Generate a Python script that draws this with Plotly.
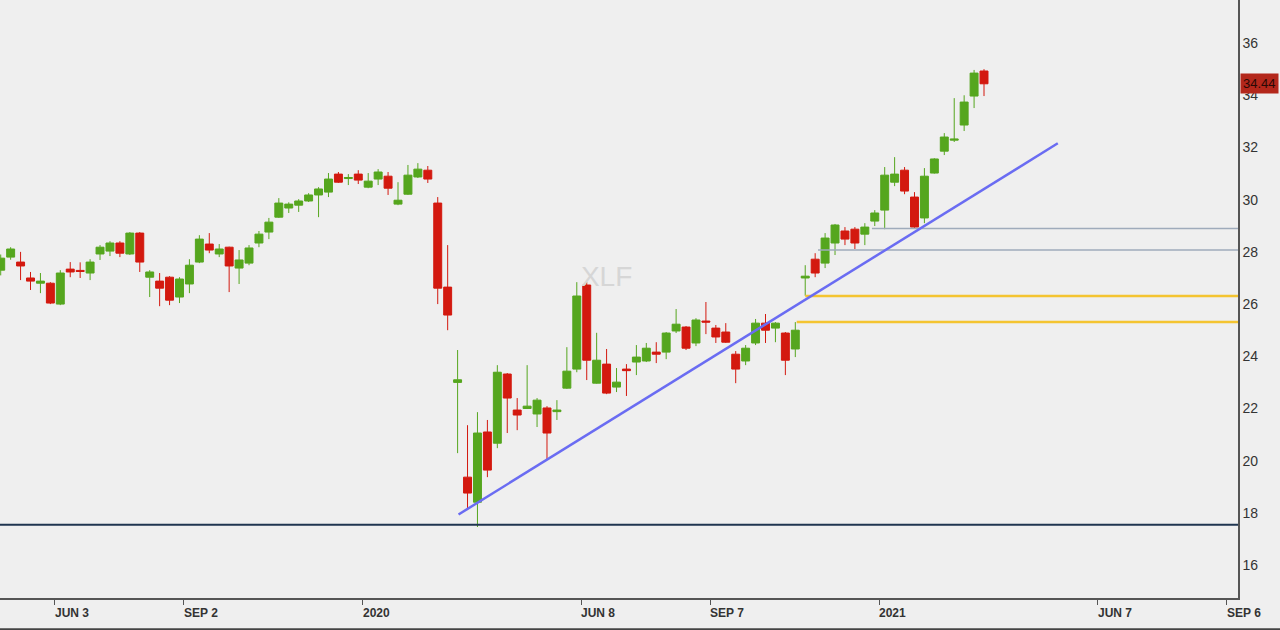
import pandas as pd
import plotly.graph_objects as go

# Weekly candles (week ending Friday), first week ending 2019-04-26
dates = pd.date_range("2019-04-26", periods=100, freq="W-FRI")

open_ = [27.30, 27.80, 27.61, 27.00, 26.80, 26.80, 26.00, 27.34, 27.29, 27.19,
         27.92, 28.03, 28.34, 27.92, 28.72, 27.03, 26.88, 27.03, 26.27, 26.77,
         27.61, 28.30, 27.92, 28.18, 27.38, 27.57, 28.34, 28.76, 29.33, 29.68,
         29.79, 29.95, 30.18, 30.29, 30.98, 30.81, 30.98, 30.48, 30.79, 30.90,
         29.83, 30.21, 30.87, 31.13, 29.87, 26.65, 23.00, 19.37, 18.41, 21.10,
         20.67, 23.32, 21.94, 22.00, 21.79, 22.02, 21.88, 22.78, 23.51, 26.73,
         22.97, 23.70, 22.82, 23.51, 23.78, 23.82, 24.16, 24.16, 24.97, 25.12,
         24.51, 25.35, 25.08, 24.93, 24.08, 23.82, 24.51, 25.27, 25.08, 24.89,
         24.28, 27.00, 27.72, 27.57, 28.34, 28.80, 28.87, 28.68, 29.18, 29.60,
         30.67, 31.13, 30.10, 29.30, 31.02, 31.86, 32.28, 32.86, 33.97, 34.93]
high = [27.90, 28.18, 28.00, 27.23, 27.19, 26.84, 27.30, 27.61, 27.60, 27.72,
        28.26, 28.41, 28.41, 28.76, 28.76, 27.30, 27.19, 27.07, 27.03, 27.72,
        28.64, 28.72, 28.30, 28.20, 28.07, 28.26, 28.80, 29.30, 30.06, 29.90,
        30.02, 30.25, 30.48, 31.02, 31.06, 30.98, 31.13, 31.02, 31.17, 31.06,
        30.67, 31.33, 31.40, 31.29, 30.10, 28.26, 24.24, 21.36, 21.86, 21.56,
        23.66, 23.36, 22.40, 23.66, 22.40, 22.09, 22.32, 24.35, 26.84, 26.84,
        24.90, 24.28, 23.55, 23.70, 24.43, 24.51, 24.54, 24.93, 25.81, 25.16,
        25.46, 26.08, 25.20, 25.27, 24.20, 24.43, 25.43, 25.62, 25.31, 24.93,
        25.31, 27.49, 27.95, 28.72, 29.07, 28.95, 28.95, 29.10, 29.60, 31.25,
        31.63, 31.25, 30.29, 31.21, 31.59, 32.55, 33.89, 34.00, 34.97, 35.00]
low = [27.10, 27.70, 26.92, 26.54, 26.42, 26.00, 25.96, 27.03, 27.00, 26.92,
       27.69, 27.84, 27.80, 27.88, 27.23, 26.27, 25.92, 25.96, 26.04, 26.42,
       27.57, 27.95, 27.80, 26.46, 26.77, 27.49, 28.18, 28.49, 29.30, 29.49,
       29.53, 29.91, 29.33, 30.10, 30.64, 30.56, 30.60, 30.44, 30.56, 30.18,
       29.79, 30.18, 30.83, 30.64, 26.00, 25.00, 20.29, 18.11, 17.46, 19.37,
       20.48, 21.06, 21.17, 21.98, 21.29, 20.06, 21.56, 22.75, 23.39, 23.09,
       22.95, 22.55, 22.63, 22.48, 23.28, 23.78, 23.74, 23.89, 24.89, 24.24,
       24.39, 24.85, 24.51, 24.51, 22.97, 23.66, 24.43, 24.51, 24.54, 23.28,
       23.97, 26.32, 27.03, 27.38, 27.88, 28.26, 28.11, 28.26, 28.99, 28.87,
       30.52, 30.21, 28.91, 29.10, 31.00, 31.71, 32.21, 32.63, 33.51, 33.97]
close = [27.76, 28.11, 27.46, 26.88, 26.88, 26.04, 27.19, 27.23, 27.25, 27.61,
         28.18, 28.34, 27.95, 28.72, 27.61, 27.23, 26.61, 26.15, 26.96, 27.49,
         28.49, 28.07, 28.11, 27.46, 27.69, 28.15, 28.68, 29.14, 29.87, 29.83,
         29.95, 30.18, 30.41, 30.79, 30.67, 30.85, 30.75, 30.71, 31.06, 30.44,
         29.98, 30.94, 31.17, 30.79, 26.61, 25.58, 23.10, 18.76, 21.06, 19.64,
         23.39, 22.40, 21.75, 22.09, 22.32, 21.06, 21.94, 23.43, 26.31, 23.85,
         23.85, 22.59, 23.01, 23.45, 23.97, 24.31, 24.08, 24.89, 25.23, 24.31,
         25.39, 25.31, 24.74, 24.54, 23.51, 24.31, 25.27, 25.00, 25.27, 23.85,
         25.00, 27.07, 27.19, 28.53, 29.03, 28.49, 28.34, 28.95, 29.49, 30.94,
         30.98, 30.33, 28.95, 30.90, 31.56, 32.40, 32.32, 33.74, 34.85, 34.44]

last_price = 34.44
symbol = "XLF"
watermark_pos = ("2020-06-26", 26.95)

# Drawn lines
support_level = 17.55
gray_levels = [28.90, 28.07]
gray_starts = ["2020-12-30", "2020-11-22"]
yellow_levels = [26.31, 25.31]
yellow_starts = ["2020-11-13", "2020-11-07"]
trend_x = ["2020-03-13 16:00", "2021-05-10"]
trend_y = [17.94, 32.16]

tick_dates = ["2019-06-03", "2019-09-02", "2020-01-06", "2020-06-08",
              "2020-09-07", "2021-01-04", "2021-06-07", "2021-09-06"]
tick_labels = ["JUN 3", "SEP 2", "2020", "JUN 8", "SEP 7", "2021", "JUN 7", "SEP 6"]
y_ticks = [16, 18, 20, 22, 24, 26, 28, 30, 32, 34, 36]

x_range = ["2019-04-25 12:00", "2021-09-14"]
x_end = "2021-09-14"

GREEN = "#55a61e"
RED = "#d3190f"
BG = "#efefef"

fig = go.Figure()

# watermark behind everything
fig.add_trace(go.Scatter(x=[watermark_pos[0]], y=[watermark_pos[1]], mode="text",
                         text=[symbol], hoverinfo="skip", showlegend=False,
                         textfont=dict(family="Liberation Sans", size=28, color="#d6d6d6")))

# horizontal support line
fig.add_trace(go.Scatter(x=[x_range[0], x_end], y=[support_level, support_level],
                         mode="lines", line=dict(color="#1f3550", width=2),
                         hoverinfo="skip", showlegend=False))
for lv, st in zip(gray_levels, gray_starts):
    fig.add_trace(go.Scatter(x=[st, x_end], y=[lv, lv], mode="lines",
                             line=dict(color="#9fabbb", width=1.5),
                             hoverinfo="skip", showlegend=False))
for lv, st in zip(yellow_levels, yellow_starts):
    fig.add_trace(go.Scatter(x=[st, x_end], y=[lv, lv], mode="lines",
                             line=dict(color="#f4c430", width=2.5),
                             hoverinfo="skip", showlegend=False))

fig.add_trace(go.Candlestick(
    x=dates, open=open_, high=high, low=low, close=close,
    increasing=dict(line=dict(color=GREEN, width=1), fillcolor=GREEN),
    decreasing=dict(line=dict(color=RED, width=1), fillcolor=RED),
    whiskerwidth=0, showlegend=False))

fig.add_trace(go.Scatter(x=trend_x, y=trend_y, mode="lines",
                         line=dict(color="#6a6cf2", width=2.5),
                         hoverinfo="skip", showlegend=False))

annotations = []
for d, t in zip(tick_dates, tick_labels):
    annotations.append(dict(x=d, y=0, xref="x", yref="paper", text=t,
                            showarrow=False, xanchor="left", yanchor="top",
                            xshift=-2, yshift=-6,
                            font=dict(family="Liberation Sans", size=12,
                                      color="#333333", weight="bold")))
annotations.append(dict(x=1, y=last_price, xref="paper", yref="y", text=str(last_price),
                        showarrow=False, xanchor="left", xshift=2,
                        bgcolor="#b3271b", borderpad=2,
                        font=dict(family="Liberation Sans", size=13, color="#2a0905")))

fig.update_layout(
    width=1280, height=630,
    margin=dict(l=0, r=42, t=0, b=32),
    paper_bgcolor=BG, plot_bgcolor=BG,
    showlegend=False,
    boxgap=0.2, boxgroupgap=0.0,
    annotations=annotations,
    xaxis=dict(type="date", range=x_range, rangeslider=dict(visible=False),
               showgrid=False, zeroline=False,
               tickvals=tick_dates, ticktext=[""] * len(tick_dates),
               ticks="outside", ticklen=5, tickcolor="#555555",
               showline=True, linecolor="#555555", linewidth=2),
    yaxis=dict(side="right", range=[14.74, 37.65], showgrid=False, zeroline=False,
               tickvals=y_ticks, ticks="", showline=True, linecolor="#555555",
               linewidth=1.5,
               tickfont=dict(family="Liberation Sans", size=14, color="#333333")),
)

# bottom frame line of the page
fig.add_shape(type="line", xref="paper", yref="paper", x0=-0.01, x1=1.05,
              y0=-0.053, y1=-0.053, line=dict(color="#444444", width=3))

fig.write_html("out.html")
